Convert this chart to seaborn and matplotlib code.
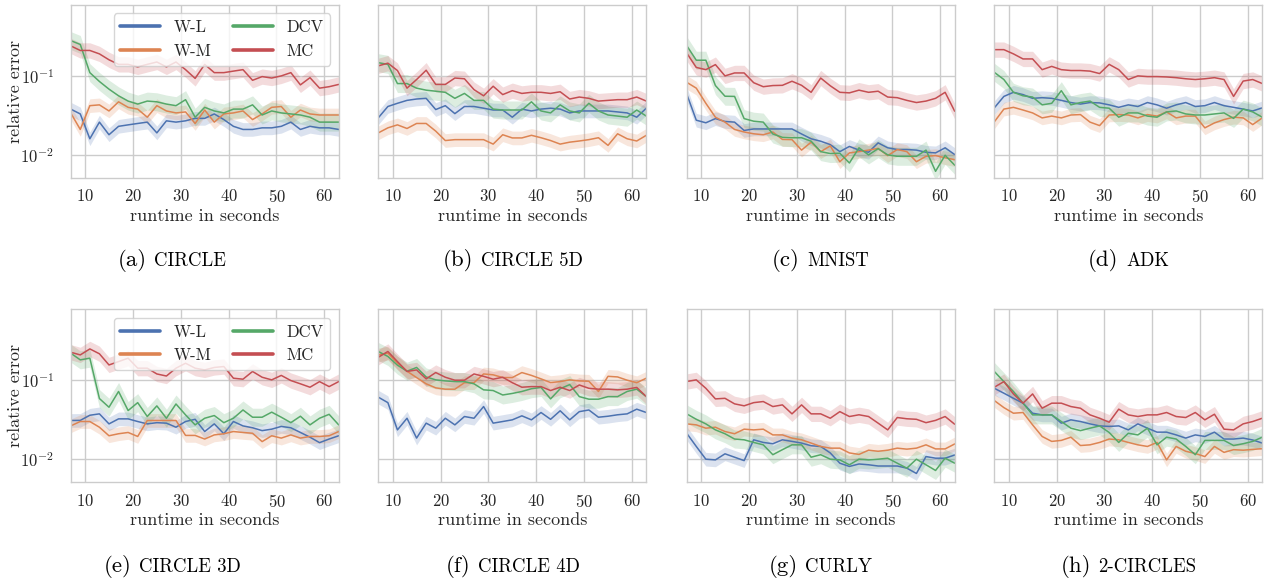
import numpy as np
import pandas as pd
import matplotlib
matplotlib.use("Agg")
import matplotlib.pyplot as plt
import seaborn as sns
from matplotlib.offsetbox import TextArea, HPacker, AnnotationBbox

# ---------------------------------------------------------------- data
runtime = list(range(7, 64, 2))          # seconds, 29 checkpoints
methods = ["W-L", "W-M", "DCV", "MC"]
# relative width of the shaded band around each mean curve
band = {"W-L": 1.22, "W-M": 1.22, "DCV": 1.30, "MC": 1.25}

circle_wl = [0.038, 0.033, 0.016, 0.026, 0.018, 0.023, 0.024, 0.025, 0.026, 0.019, 0.027, 0.026, 0.027, 0.029, 0.029,
             0.033, 0.028, 0.023, 0.021, 0.021, 0.022, 0.022, 0.023, 0.026, 0.021, 0.023, 0.022, 0.022, 0.021]
circle_wm = [0.034, 0.021, 0.042, 0.043, 0.036, 0.047, 0.040, 0.038, 0.030, 0.042, 0.036, 0.034, 0.035, 0.025, 0.037,
             0.026, 0.033, 0.034, 0.036, 0.028, 0.033, 0.040, 0.041, 0.030, 0.037, 0.033, 0.032, 0.032, 0.032]
circle_dcv = [0.28, 0.25, 0.11, 0.085, 0.068, 0.056, 0.048, 0.044, 0.048, 0.047, 0.044, 0.042, 0.050, 0.030, 0.040,
              0.036, 0.034, 0.038, 0.038, 0.043, 0.032, 0.036, 0.034, 0.033, 0.032, 0.030, 0.026, 0.026, 0.026]
circle_mc = [0.24, 0.21, 0.21, 0.19, 0.16, 0.14, 0.14, 0.13, 0.14, 0.15, 0.13, 0.15, 0.12, 0.093, 0.14,
             0.11, 0.11, 0.115, 0.12, 0.088, 0.098, 0.094, 0.10, 0.11, 0.077, 0.095, 0.07, 0.073, 0.078]

circle5d_wl = [0.0295, 0.041, 0.045, 0.049, 0.051, 0.052, 0.0375, 0.042, 0.0333, 0.041, 0.041, 0.039, 0.037, 0.037,
               0.030, 0.038, 0.036, 0.038, 0.039, 0.038, 0.034, 0.036, 0.036, 0.036, 0.036, 0.035, 0.034, 0.030, 0.039]
circle5d_wm = [0.019, 0.022, 0.024, 0.0216, 0.025, 0.025, 0.020, 0.0152, 0.0156, 0.0156, 0.0156, 0.0156, 0.0137,
               0.018, 0.0164, 0.0164, 0.0177, 0.0165, 0.0152, 0.0137, 0.0145, 0.015, 0.0156, 0.0165, 0.0132, 0.0185,
               0.016, 0.015, 0.0177]
circle5d_dcv = [0.147, 0.14, 0.08, 0.08, 0.07, 0.066, 0.064, 0.062, 0.052, 0.060, 0.049, 0.049, 0.038, 0.037, 0.037,
                0.037, 0.047, 0.036, 0.034, 0.043, 0.036, 0.034, 0.045, 0.036, 0.032, 0.031, 0.030, 0.037, 0.031]
circle5d_mc = [0.134, 0.145, 0.117, 0.07, 0.09, 0.118, 0.078, 0.078, 0.094, 0.092, 0.067, 0.056, 0.074, 0.058, 0.065,
               0.060, 0.062, 0.062, 0.060, 0.063, 0.051, 0.054, 0.052, 0.048, 0.049, 0.050, 0.050, 0.054, 0.048]

mnist_wl = [0.059, 0.0275, 0.0255, 0.0288, 0.0265, 0.026, 0.0204, 0.0213, 0.0213, 0.0213, 0.0213, 0.0213, 0.0184,
            0.016, 0.0149, 0.0135, 0.011, 0.0128, 0.0115, 0.0108, 0.0142, 0.0123, 0.0117, 0.0117, 0.0115, 0.0108,
            0.0106, 0.0123, 0.0101]
mnist_wm = [0.083, 0.07, 0.045, 0.03, 0.026, 0.021, 0.0195, 0.0185, 0.018, 0.0195, 0.0157, 0.0156, 0.0115, 0.0145,
            0.011, 0.013, 0.0082, 0.0106, 0.011, 0.0115, 0.0121, 0.0098, 0.0117, 0.011, 0.0082, 0.0096, 0.0098,
            0.0092, 0.0087]
mnist_dcv = [0.242, 0.158, 0.158, 0.0755, 0.0553, 0.055, 0.0288, 0.0267, 0.026, 0.0184, 0.0167, 0.0165, 0.0165,
             0.0149, 0.011, 0.0104, 0.0105, 0.0079, 0.0123, 0.010, 0.012, 0.010, 0.0096, 0.0096, 0.0096, 0.0115,
             0.0062, 0.0099, 0.0074]
mnist_mc = [0.195, 0.128, 0.12, 0.139, 0.1, 0.109, 0.109, 0.082, 0.073, 0.0755, 0.076, 0.0856, 0.076, 0.062, 0.094,
            0.075, 0.062, 0.061, 0.066, 0.062, 0.064, 0.054, 0.053, 0.049, 0.046, 0.048, 0.052, 0.062, 0.0357]

adk_wl = [0.0394, 0.055, 0.062, 0.058, 0.052, 0.053, 0.052, 0.049, 0.046, 0.044, 0.046, 0.0455, 0.043, 0.040, 0.043,
          0.041, 0.046, 0.043, 0.039, 0.043, 0.046, 0.041, 0.042, 0.046, 0.042, 0.040, 0.038, 0.036, 0.0394]
adk_wm = [0.0262, 0.038, 0.040, 0.037, 0.034, 0.0294, 0.031, 0.0294, 0.032, 0.0324, 0.026, 0.0235, 0.032, 0.0324,
          0.032, 0.0294, 0.0324, 0.031, 0.035, 0.0294, 0.031, 0.031, 0.022, 0.0254, 0.028, 0.030, 0.0294, 0.0242,
          0.0294]
adk_dcv = [0.111, 0.09, 0.062, 0.056, 0.054, 0.043, 0.045, 0.065, 0.043, 0.046, 0.048, 0.040, 0.039, 0.030, 0.034,
           0.034, 0.031, 0.030, 0.035, 0.036, 0.033, 0.032, 0.032, 0.033, 0.034, 0.029, 0.038, 0.035, 0.030]
adk_mc = [0.215, 0.215, 0.19, 0.164, 0.164, 0.12, 0.132, 0.12, 0.117, 0.117, 0.115, 0.107, 0.14, 0.12, 0.09,
          0.1, 0.098, 0.098, 0.097, 0.095, 0.092, 0.09, 0.092, 0.095, 0.09, 0.055, 0.086, 0.09, 0.08]

circle3d_wl = [0.0309, 0.031, 0.036, 0.0375, 0.028, 0.0324, 0.0324, 0.030, 0.028, 0.029, 0.0286, 0.0254, 0.030,
               0.032, 0.0224, 0.028, 0.021, 0.030, 0.0264, 0.025, 0.023, 0.024, 0.026, 0.025, 0.0218, 0.019, 0.0162,
               0.018, 0.0198]
circle3d_wm = [0.0264, 0.030, 0.030, 0.0254, 0.0198, 0.021, 0.0218, 0.0194, 0.0309, 0.0309, 0.0309, 0.0309, 0.020,
               0.020, 0.018, 0.0203, 0.021, 0.0224, 0.0218, 0.0213, 0.0167, 0.0198, 0.0185, 0.0203, 0.0185, 0.0194,
               0.0194, 0.0198, 0.0224]
circle3d_dcv = [0.22, 0.181, 0.19, 0.0586, 0.0455, 0.072, 0.0413, 0.052, 0.0347, 0.0473, 0.033, 0.050, 0.0364,
                0.0272, 0.033, 0.0357, 0.029, 0.033, 0.042, 0.034, 0.034, 0.0394, 0.034, 0.029, 0.035, 0.0272,
                0.033, 0.037, 0.0272]
circle3d_mc = [0.226, 0.209, 0.249, 0.216, 0.156, 0.172, 0.19, 0.142, 0.142, 0.12, 0.113, 0.142, 0.164, 0.142,
               0.135, 0.145, 0.149, 0.106, 0.103, 0.129, 0.109, 0.101, 0.115, 0.099, 0.09, 0.0815, 0.096, 0.083, 0.096]

circle4d_wl = [0.061, 0.052, 0.0235, 0.033, 0.0185, 0.0286, 0.0247, 0.033, 0.0272, 0.0347, 0.033, 0.0464, 0.0286,
               0.030, 0.0315, 0.0354, 0.0315, 0.039, 0.032, 0.041, 0.0315, 0.040, 0.042, 0.034, 0.035, 0.0365,
               0.0375, 0.043, 0.039]
circle4d_wm = [0.209, 0.22, 0.165, 0.13, 0.108, 0.09, 0.08, 0.077, 0.077, 0.093, 0.093, 0.12, 0.117, 0.108, 0.108,
               0.125, 0.115, 0.104, 0.0934, 0.096, 0.101, 0.098, 0.097, 0.072, 0.112, 0.110, 0.100, 0.093, 0.106]
circle4d_dcv = [0.231, 0.20, 0.155, 0.13, 0.145, 0.11, 0.101, 0.098, 0.096, 0.096, 0.09, 0.0755, 0.074, 0.065,
                0.068, 0.072, 0.078, 0.081, 0.058, 0.078, 0.088, 0.062, 0.0575, 0.0575, 0.062, 0.062, 0.072, 0.077,
                0.062]
circle4d_mc = [0.195, 0.231, 0.172, 0.129, 0.135, 0.104, 0.125, 0.109, 0.1, 0.1, 0.12, 0.112, 0.103, 0.109, 0.093,
               0.0815, 0.083, 0.083, 0.074, 0.0815, 0.074, 0.087, 0.079, 0.077, 0.077, 0.0755, 0.077, 0.081, 0.062]

curly_wl = [0.0213, 0.0145, 0.0100, 0.0098, 0.0117, 0.0106, 0.0096, 0.0176, 0.0163, 0.0157, 0.0176, 0.0168, 0.0160,
            0.0148, 0.0145, 0.0120, 0.0089, 0.0081, 0.0087, 0.0085, 0.0082, 0.0082, 0.0082, 0.0077, 0.0066, 0.0108,
            0.0103, 0.0103, 0.0113]
curly_wm = [0.028, 0.0272, 0.0247, 0.0254, 0.0224, 0.021, 0.024, 0.0235, 0.024, 0.0203, 0.0203, 0.0185, 0.0176,
            0.016, 0.0145, 0.0138, 0.0138, 0.012, 0.0115, 0.013, 0.0126, 0.013, 0.0138, 0.0134, 0.0138, 0.0152,
            0.0135, 0.0135, 0.0156]
curly_dcv = [0.0375, 0.032, 0.028, 0.0235, 0.021, 0.018, 0.0176, 0.0163, 0.0152, 0.0114, 0.0132, 0.0152, 0.0152,
             0.0106, 0.0114, 0.010, 0.0098, 0.0085, 0.0100, 0.0098, 0.0100, 0.0103, 0.0089, 0.0077, 0.0100, 0.0085,
             0.0072, 0.0103, 0.0089]
curly_mc = [0.0962, 0.101, 0.079, 0.058, 0.059, 0.0502, 0.0474, 0.052, 0.0537, 0.0464, 0.0487, 0.0375, 0.0487,
            0.0375, 0.0375, 0.033, 0.040, 0.0347, 0.0365, 0.0347, 0.0286, 0.0235, 0.0337, 0.0325, 0.032, 0.029,
            0.031, 0.0347, 0.0277]

circles2_wl = [0.079, 0.0685, 0.059, 0.0512, 0.0382, 0.0364, 0.0364, 0.0286, 0.0315, 0.030, 0.028, 0.0264, 0.026,
               0.0264, 0.0235, 0.028, 0.0247, 0.022, 0.022, 0.0203, 0.0185, 0.0203, 0.0194, 0.022, 0.018, 0.018,
               0.0185, 0.0175, 0.016]
circles2_wm = [0.0553, 0.045, 0.0382, 0.039, 0.0272, 0.0194, 0.0168, 0.0173, 0.019, 0.0149, 0.0152, 0.0163, 0.018,
               0.0176, 0.0163, 0.0152, 0.0145, 0.0163, 0.0098, 0.0145, 0.0126, 0.0118, 0.0108, 0.0145, 0.0122,
               0.0132, 0.013, 0.0133, 0.0136]
circles2_dcv = [0.129, 0.096, 0.072, 0.0512, 0.0364, 0.0364, 0.0364, 0.030, 0.0247, 0.023, 0.0247, 0.0264, 0.0218,
                0.0163, 0.0213, 0.0203, 0.0247, 0.0152, 0.019, 0.018, 0.0145, 0.0114, 0.0173, 0.0173, 0.0173, 0.0149,
                0.0157, 0.0168, 0.019]
circles2_mc = [0.0815, 0.096, 0.067, 0.0512, 0.067, 0.0442, 0.0512, 0.0512, 0.0464, 0.0442, 0.0364, 0.033, 0.0294,
               0.043, 0.0364, 0.0347, 0.0364, 0.0364, 0.039, 0.0347, 0.0337, 0.039, 0.0315, 0.0371, 0.024, 0.0235,
               0.028, 0.030, 0.033]

panels = [
    ("(a)", "CIRCLE", [circle_wl, circle_wm, circle_dcv, circle_mc]),
    ("(b)", "CIRCLE 5D", [circle5d_wl, circle5d_wm, circle5d_dcv, circle5d_mc]),
    ("(c)", "MNIST", [mnist_wl, mnist_wm, mnist_dcv, mnist_mc]),
    ("(d)", "ADK", [adk_wl, adk_wm, adk_dcv, adk_mc]),
    ("(e)", "CIRCLE 3D", [circle3d_wl, circle3d_wm, circle3d_dcv, circle3d_mc]),
    ("(f)", "CIRCLE 4D", [circle4d_wl, circle4d_wm, circle4d_dcv, circle4d_mc]),
    ("(g)", "CURLY", [curly_wl, curly_wm, curly_dcv, curly_mc]),
    ("(h)", "2-CIRCLES", [circles2_wl, circles2_wm, circles2_dcv, circles2_mc]),
]

# ---------------------------------------------------------------- style
sns.set_theme(style="whitegrid")
plt.rcParams.update({
    "font.family": "serif",
    "font.serif": ["cmr10"],
    "mathtext.fontset": "cm",
    "axes.formatter.use_mathtext": True,
    "axes.unicode_minus": False,
    "axes.edgecolor": ".8",
    "grid.color": ".8",
    "text.color": ".15",
    "axes.labelcolor": ".15",
    "xtick.color": ".15",
    "ytick.color": ".15",
    "xtick.labelsize": 12,
    "ytick.labelsize": 12,
    "axes.labelsize": 13,
    "legend.fontsize": 12,
    "xtick.major.pad": 1.5,
    "ytick.major.pad": 6,
})
palette = sns.color_palette("deep", 4)

W, H = 1269, 581
fig = plt.figure(figsize=(W / 100, H / 100), dpi=100)

col_left = [70.7, 378.3, 686.7, 994.3]
row_top = [5.0, 309.3]
ax_w, ax_h = 268.0, 173.0
caption_x = [172, 512.5, 820.5, 1128.5]
caption_y = [261, 566]


def long_table(series):
    rows = []
    for name, values in zip(methods, series):
        f = band[name]
        for t, v in zip(runtime, values):
            for y in (v / f, v, v * f):
                rows.append((name, t, y))
    return pd.DataFrame(rows, columns=["method", "runtime", "error"])


for k, (tag, name, series) in enumerate(panels):
    r, c = divmod(k, 4)
    ax = fig.add_axes([col_left[c] / W, 1 - (row_top[r] + ax_h) / H, ax_w / W, ax_h / H])
    ax.set_yscale("log")
    df = long_table(series)
    sns.lineplot(data=df, x="runtime", y="error", hue="method", hue_order=methods,
                 palette=palette, estimator="median",
                 errorbar=lambda v: (v.min(), v.max()),
                 linewidth=1.1, err_kws={"alpha": 0.2, "linewidth": 0},
                 legend=(c == 0), ax=ax)
    ax.set_xlim(7, 63)
    ax.set_ylim(0.0051, 0.79)
    ax.set_xticks([10, 20, 30, 40, 50, 60])
    ax.set_xlabel("runtime in seconds", labelpad=2)
    if c == 0:
        ax.set_ylabel("relative error", labelpad=-2)
        handles, labels = ax.get_legend_handles_labels()
        leg = ax.legend(handles, labels, ncol=2, loc="upper right", handlelength=2.4,
                        columnspacing=1.3, borderaxespad=0.5, frameon=True)
        for line in leg.get_lines():
            line.set_linewidth(2.6)
    else:
        ax.set_ylabel("")
        ax.tick_params(axis="y", labelleft=False)
    for s in ax.spines.values():
        s.set_linewidth(1.0)

    # sub-caption: "(x)" followed by the data set name in small capitals
    box = HPacker(children=[TextArea(tag, textprops=dict(size=16.5, color="black", family="serif")),
                            TextArea(name, textprops=dict(size=13.5, color="black", family="serif"))],
                  align="baseline", pad=0, sep=5.5)
    ab = AnnotationBbox(box, (caption_x[c] / W, 1 - caption_y[r] / H), xycoords="figure fraction",
                        frameon=False, box_alignment=(0.5, 0.5), pad=0)
    fig.add_artist(ab)

fig.savefig("out.png", dpi=100)
